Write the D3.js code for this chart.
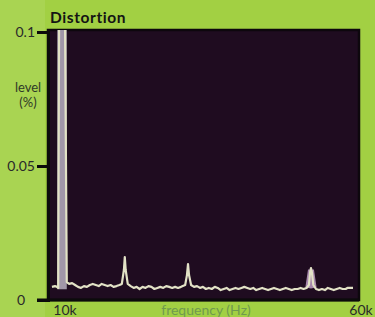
<!DOCTYPE html>
<html><head><meta charset="utf-8">
<script src="https://cdn.jsdelivr.net/npm/d3@7"></script>
<style>
html,body{margin:0;padding:0;background:#a2d043;}
svg{display:block;}
text{font-family:Lato,"Open Sans",sans-serif;}
</style></head>
<body><svg id="c" width="375" height="317"></svg>
<script>
// ---- data ----
const title = "Distortion";
const yTicks = [0, 0.05, 0.1];
const yTickLabels = ["0", "0.05", "0.1"];
const xTicks = [10, 60];
const xTickLabels = ["10k", "60k"];
const xTitle = "frequency (Hz)";
const yTitle = ["level", "(%)"];
// fundamental band (kHz)
const fundamentalBand = [8.7, 10.3];
// spectrum trace: frequency in kHz, level in %
const freqKHz = [7.8,8.3,8.65,8.85,9.0,10.0,10.3,10.7,11.2,11.7,12.2,12.7,13.2,13.7,14.2,14.7,15.2,15.7,16.2,16.7,17.2,17.7,18.2,18.7,19.2,19.6,19.95,20.1,20.25,20.6,21.1,21.6,22.1,22.6,23.1,23.6,24.1,24.6,25.1,25.6,26.1,26.6,27.1,27.6,28.1,28.6,29.1,29.6,30.3,30.6,30.78,30.95,31.3,31.8,32.3,32.8,33.3,33.8,34.3,34.8,35.3,35.8,36.3,36.8,37.3,37.8,38.3,38.8,39.3,39.8,40.3,40.8,41.3,41.8,42.3,42.8,43.3,43.8,44.3,44.8,45.3,45.8,46.3,46.8,47.3,47.8,48.3,48.8,49.3,49.8,50.3,50.8,51.2,51.4,51.55,51.7,51.95,52.4,52.9,53.4,53.9,54.4,54.9,55.4,55.9,56.4,56.9,57.4,57.7,58.65];
const levelPct = [0.0049,0.0052,0.0049,0.0045,0.105,0.105,0.0067,0.0060,0.0063,0.0056,0.0049,0.0045,0.0052,0.0049,0.0056,0.0060,0.0056,0.0052,0.0060,0.0056,0.0052,0.0056,0.0049,0.0052,0.0056,0.0060,0.0112,0.0160,0.0112,0.0060,0.0052,0.0045,0.0049,0.0041,0.0049,0.0045,0.0052,0.0049,0.0041,0.0045,0.0049,0.0045,0.0052,0.0049,0.0045,0.0049,0.0045,0.0049,0.0056,0.0093,0.0134,0.0093,0.0056,0.0049,0.0052,0.0045,0.0049,0.0041,0.0045,0.0041,0.0049,0.0045,0.0037,0.0041,0.0045,0.0037,0.0041,0.0045,0.0041,0.0045,0.0049,0.0045,0.0041,0.0045,0.0037,0.0041,0.0045,0.0041,0.0037,0.0041,0.0045,0.0041,0.0037,0.0041,0.0045,0.0041,0.0037,0.0041,0.0041,0.0045,0.0041,0.0045,0.0056,0.0104,0.0119,0.0104,0.0056,0.0041,0.0037,0.0041,0.0037,0.0045,0.0041,0.0037,0.0041,0.0045,0.0041,0.0041,0.0045,0.0045];
// pinkish glow around the 50k harmonic
const glowKHz = [51.1, 51.55, 52.0];
const glowPct = [0.0045, 0.0112, 0.0045];

// ---- layout ----
const svg = d3.select("#c");
const plot = {left:48, right:359, top:30, bottom:300};
const x = d3.scaleLinear().domain([10, 60]).range([65, 361]);
const y = d3.scaleLinear().domain([0, 0.1]).range([300, 32]);

svg.append("rect").attr("width",375).attr("height",317).attr("fill","#a2d043");
svg.append("rect").attr("x",0).attr("y",0).attr("width",45).attr("height",317).attr("fill","#a9d452");

svg.append("defs").append("clipPath").attr("id","clip")
  .append("rect").attr("x",plot.left).attr("y",plot.top)
  .attr("width",plot.right-plot.left).attr("height",plot.bottom-plot.top);

svg.append("rect").attr("x",plot.left).attr("y",plot.top)
  .attr("width",plot.right-plot.left).attr("height",plot.bottom-plot.top)
  .attr("fill","#1f0c20").attr("stroke","#0d070d").attr("stroke-width",2.5);

const g = svg.append("g").attr("clip-path","url(#clip)");
g.append("rect")
  .attr("x", x(fundamentalBand[0])).attr("width", x(fundamentalBand[1]) - x(fundamentalBand[0]))
  .attr("y", y(0.105)).attr("height", y(0.004) - y(0.105))
  .attr("fill","#b9b0c2").attr("opacity",0.85);

const line = d3.line().x(d => x(d[0])).y(d => y(d[1]));
g.append("path").datum(glowKHz.map((f,i)=>[f,glowPct[i]]))
  .attr("d", line).attr("fill","none").attr("stroke","#c9a8cf").attr("stroke-width",6).attr("opacity",0.8);
g.append("path").datum(freqKHz.map((f,i)=>[f,levelPct[i]]))
  .attr("d", line).attr("fill","none").attr("stroke","#e2e2c6")
  .attr("stroke-width",2.2).attr("stroke-linejoin","round");

// axes
const yAxis = d3.axisLeft(y).tickValues(yTicks.slice(1)).tickSize(11).tickFormat("");
const ya = svg.append("g").attr("transform",`translate(${plot.left},0)`).call(yAxis);
ya.select(".domain").attr("stroke","#0b0b0b").attr("stroke-width",3);
ya.selectAll(".tick line").attr("stroke","#0b0b0b").attr("stroke-width",3);

svg.append("line").attr("x1",37).attr("x2",plot.right).attr("y1",y(0)).attr("y2",y(0))
  .attr("stroke","#0b0b0b").attr("stroke-width",3);

svg.selectAll(".ylab").data(yTicks).enter().append("text")
  .attr("x", d => d === 0 ? 25 : 35).attr("y", d => y(d)).attr("dy","0.36em")
  .attr("text-anchor","end").attr("font-size",14).attr("fill","#2a2a2a")
  .text((d,i) => yTickLabels[i]);

svg.selectAll(".xlab").data(xTicks).enter().append("text")
  .attr("x", d => x(d)).attr("y", 315)
  .attr("text-anchor","middle").attr("font-size",14).attr("fill","#2a2a2a")
  .text((d,i) => xTickLabels[i]);

svg.append("text").attr("x",206).attr("y",315).attr("text-anchor","middle")
  .attr("font-size",14).attr("fill","#6f9a4f").text(xTitle);

svg.selectAll(".yt").data(yTitle).enter().append("text")
  .attr("x",28).attr("y",(d,i)=>92+i*15).attr("text-anchor","middle")
  .attr("font-size",13).attr("fill","#2f3a28").text(d=>d);

svg.append("text").attr("x",50).attr("y",23).attr("font-size",15.5)
  .attr("letter-spacing",0.6)
  .attr("font-weight","bold").attr("fill","#141414").text(title);
</script></body></html>
